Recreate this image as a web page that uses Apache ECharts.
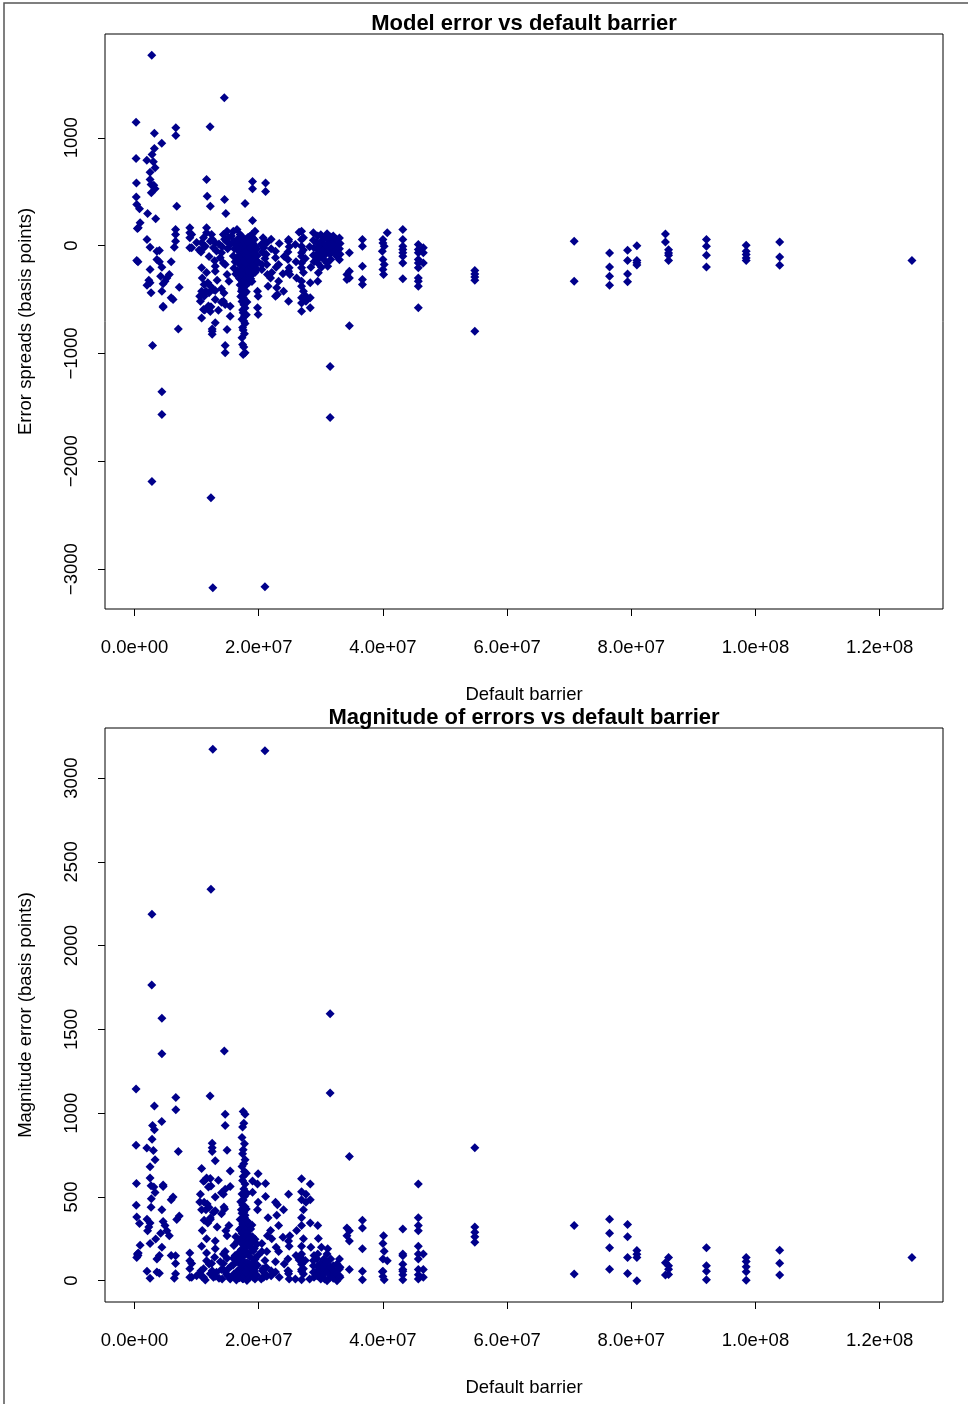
<!DOCTYPE html>
<html><head><meta charset="utf-8">
<script src="https://cdn.jsdelivr.net/npm/echarts@6/dist/echarts.min.js"></script>
<style>html,body{margin:0;padding:0;background:#fff}#c{width:968px;height:1404px}</style>
</head><body><div id="c"></div><script>
// x values are default barriers in millions; y values are error spreads in basis points
const xTicks = [0, 20, 40, 60, 80, 100, 120];
const topYTicks = [-3000, -2000, -1000, 0, 1000];
const botYTicks = [0, 500, 1000, 1500, 2000, 2500, 3000];

const obsNearZero = [
[0.24,1145],[0.24,808],[0.3,580],[0.27,451],[0.35,381],[0.8,341],[0.9,212],[0.45,159],[0.6,165],[0.35,-138],[0.55,-150],
[1.97,792],[2.0,57],[2.1,298],[2.0,-367],[2.3,-320],[2.5,-15],[2.5,-222],[2.5,-345],[2.5,681],[2.5,613],[2.66,567],[2.66,-438],
[2.77,1765],[2.8,-2188],[2.82,845],[2.9,-927],[3.03,777],[3.19,1043],[3.19,901],[3.1,560],[3.3,527],[2.7,490],[3.3,722],[3.4,249],
[3.6,-52],[4.0,-45],[3.6,-129],[4.0,-150],[4.2,-284],[4.38,950],[4.4,-200],[4.4,-423],[4.4,-1354],[4.4,-1567],[4.6,-354],[4.6,-562],
[4.6,-572],[4.9,-330],[5.2,-299],[5.6,-268],[5.9,-150],[5.9,-484],[6.2,-500],[6.64,1093],[6.64,1021],[6.8,365],[6.6,149],[6.6,103],
[6.6,41],[6.4,-15],[7.05,-772],[7.2,-386],[8.9,165],[8.9,119],[8.9,72],[8.9,-20]
];
const obsLow = [
[9.2,103],[9.2,-20],[10.0,30],[10.4,-40],[10.5,-470],[10.6,-516],[10.7,-60],[10.8,26],[10.8,-206],[10.8,-423],[10.8,-670],[10.9,-300],
[11.1,72],[11.1,-20],[11.1,-593],[11.2,-361],[11.2,-469],[11.3,-598],[11.4,-5],[11.5,-423],[11.6,613],[11.6,165],[11.6,119],[11.6,-250],
[11.7,458],[11.8,-345],[11.9,-560],[12.0,-100],[12.0,-437],[12.16,1102],[12.2,365],[12.2,41],[12.2,-374],[12.2,-610],[12.3,-2337],
[12.3,-566],[12.4,103],[12.5,60],[12.5,-772],[12.5,-794],[12.5,-821],[12.6,-3172],[12.7,-20],[12.7,-407],[12.9,-140],[13.0,26],
[13.0,-191],[13.0,-237],[13.0,-417],[13.0,-500],[13.0,-716],[13.2,-50],[13.3,-320],[13.5,-600],[13.6,15],[13.8,-113],[14.0,-67],
[14.0,-400],[14.0,-525],[14.1,-10],[14.3,103],[14.3,-160],[14.3,-516],[14.4,-440],[14.46,1371],[14.5,428],[14.5,60],[14.6,-175],
[14.6,-546],[14.6,-927],[14.6,-994],[14.7,298],[14.8,40],[14.9,134],[14.9,-268],[14.9,-778],[15.0,-30],[15.1,72],[15.2,-330],
[15.4,10],[15.4,-562],[15.4,-655],[15.6,90]
];
const obsCore = [
[15.9,134],[16.0,40],[16.1,-30],[15.9,-95],[16.2,-150],[16.0,-210],[16.3,-262],
[16.5,149],[16.6,60],[16.4,5],[16.7,-48],[16.5,-112],[16.8,-168],[16.6,-236],[16.9,-305],
[17.0,103],[17.1,22],[16.9,-18],[17.1,-72],[17.0,-128],[17.2,-186],[17.0,-246],[17.1,-312],[17.0,-365],[17.2,-423],[17.1,-472],
[17.3,82],[17.4,12],[17.3,-42],[17.4,-98],[17.3,-158],[17.4,-218],[17.3,-282],[17.4,-338],[17.3,-402],[17.4,-452],[17.3,-518],
[17.4,-598],[17.3,-682],[17.4,-758],[17.3,-855],[17.4,-917],[17.5,-1010],
[17.6,48],[17.5,-12],[17.6,-62],[17.5,-118],[17.6,-182],[17.5,-232],[17.6,-288],[17.5,-352],[17.6,-408],[17.5,-482],[17.6,-548],
[17.5,-622],[17.6,-698],[17.5,-782],[17.6,-940],
[17.8,391],[17.8,30],[17.7,-28],[17.8,-88],[17.7,-152],[17.8,-198],[17.7,-262],[17.8,-322],[17.7,-378],[17.8,-442],[17.7,-502],
[17.8,-578],[17.7,-652],[17.8,-722],[17.7,-818],[17.8,-994],
[18.0,62],[18.1,2],[18.0,-52],[18.1,-108],[18.0,-172],[18.1,-238],[18.0,-302],[18.1,-358],[18.0,-428],[18.1,-522],[18.0,-642],
[18.3,78],[18.4,18],[18.3,-38],[18.4,-102],[18.3,-162],[18.4,-222],[18.3,-278],[18.4,-342],
[18.6,88],[18.7,28],[18.6,-22],[18.7,-82],[18.6,-142],[18.7,-198],[18.6,-252],[18.7,-308],
[19.0,595],[19.0,528],[19.0,233],[18.9,103],[19.0,72],[19.1,20],[18.9,-42],[19.0,-100],[19.1,-178],[19.0,-262],[18.9,-332],
[19.4,134],[19.3,57],[19.4,-10],[19.3,-72],[19.4,-128],[19.3,-192],[19.4,-248],
[19.8,-423],[19.9,-469],[19.8,-577],[19.9,-639],[19.7,-32],[19.8,-92],[19.9,-152],[19.7,-218]
];
const obsMid = [
[20.5,-175],[20.5,-222],[20.4,10],[20.6,-60],[20.7,72],[20.8,-20],[21.0,-3163],[21.0,41],[21.1,580],[21.1,503],[21.0,-120],
[21.3,26],[21.3,-175],[21.4,-268],[21.5,-376],[21.2,-80],[22.0,-30],[22.1,-250],[21.9,-300],[22.0,60],[22.7,-52],[22.7,-113],
[22.7,-469],[22.8,-200],[23.2,-175],[22.9,-391],[23.0,-454],[23.3,20],[23.2,-330],[24.0,-423],[24.1,-100],[23.9,-260],[24.8,41],
[24.8,57],[24.7,-129],[24.9,-206],[24.8,-237],[25.0,-268],[24.8,-516],[24.9,-10],[24.7,-60],[26.0,-150],[26.1,-300],[25.9,10],
[26.5,124],[26.9,134],[26.9,57],[26.9,-6],[26.9,-67],[26.9,-98],[26.9,-160],[26.9,-206],[26.9,-330],[26.9,-376],[26.9,-484],
[26.9,-531],[26.9,-608],[27.2,72],[27.2,-40],[27.2,-250],[27.2,-423],[27.6,-469],[27.6,-516],[27.5,-120],
[28.3,-345],[28.3,-484],[28.3,-577],[28.2,-10],[28.4,-200],[28.8,120],[28.8,50],[28.9,-20],[28.8,-90],[28.9,-150],[29.5,90],
[29.4,30],[29.5,-36],[29.6,-67],[29.4,-129],[29.5,-160],[29.6,-252],[29.5,-330],[30.0,100],[30.1,40],[30.0,-10],[30.1,-60],
[30.0,-100],[30.1,-200],[30.5,70],[30.6,10],[30.5,-40],[30.6,-90],[30.5,-130],[31.0,110],[31.1,60],[31.0,0],[31.1,-50],
[31.0,-160],[31.1,-191],[31.5,-1121],[31.5,-1594],[31.6,80],[31.5,20],[31.6,-30],[31.5,-80],[31.6,-129],[32.0,90],[32.1,40],
[32.0,-15],[32.1,-60],[32.5,60],[32.6,0],[32.5,-40],[32.6,-100],[33.0,70],[33.1,20],[33.0,-30],[33.1,-80],[33.0,-130]
];
const obsFar = [
[34.2,-268],[34.2,-314],[34.6,-67],[34.6,-237],[34.6,-299],[34.6,-742],
[36.7,57],[36.7,-6],[36.7,-191],[36.7,-314],[36.7,-361],
[40.7,119],[40.0,57],[40.0,25],[40.2,-6],[39.9,-53],[40.0,-129],[40.2,-176],[40.0,-222],[40.1,-268],
[43.2,149],[43.2,57],[43.2,-6],[43.2,-36],[43.2,-67],[43.2,-98],[43.2,-160],[43.2,-308],
[45.7,10],[45.7,-36],[45.7,-67],[45.7,-129],[45.7,-160],[45.7,-206],[45.7,-299],[45.7,-330],[45.7,-376],[45.7,-577],
[46.5,-20],[46.5,-67],[46.5,-160],
[54.8,-230],[54.8,-262],[54.8,-290],[54.8,-320],[54.8,-794],
[70.8,40],[70.8,-330],
[76.5,-68],[76.5,-197],[76.5,-284],[76.5,-367],
[79.4,-43],[79.4,-139],[79.4,-262],[79.4,-336],
[80.9,0],[80.9,-139],[80.9,-158],[80.9,-180],
[85.5,108],[85.5,34],[86.0,-37],[86.0,-68],[86.0,-90],[86.0,-139],
[92.1,56],[92.1,-6],[92.1,-90],[92.1,-197],
[98.5,3],[98.5,-53],[98.5,-83],[98.5,-114],[98.5,-139],
[103.9,34],[103.9,-105],[103.9,-182],
[125.2,-139]
];

const allObs = [].concat(obsNearZero, obsLow, obsCore, obsMid, obsFar);
const magnitudeObs = allObs.map(p => [p[0], Math.abs(p[1])]);

const FONT = '"Liberation Sans", Arial, Helvetica, sans-serif';
const INK = '#000';
const DOT = '#00008B';

function sci(v) {
  if (v === 0) return '0.0e+00';
  const n = v * 1e6;
  const e = Math.floor(Math.log10(n) + 1e-9);
  const m = n / Math.pow(10, e);
  return m.toFixed(1) + 'e+' + String(e).padStart(2, '0');
}
function signed(v) { return v < 0 ? '\u2212' + Math.abs(v) : String(v); }

function makeX(gi) {
  return {
    type: 'value', gridIndex: gi, min: -4.76, max: 130.2,
    name: 'Default barrier', nameLocation: 'middle', nameGap: 76,
    nameTextStyle: { fontFamily: FONT, fontSize: 18.5, color: INK },
    axisLine: { show: false, onZero: false },
    splitLine: { show: false },
    axisTick: { show: true, inside: false, length: 7, customValues: xTicks, lineStyle: { color: INK, width: 1 } },
    axisLabel: { show: true, margin: 29, customValues: xTicks, formatter: sci, fontFamily: FONT, fontSize: 18.5, color: INK }
  };
}
function makeY(gi, mn, mx, ticks, name) {
  return {
    type: 'value', gridIndex: gi, min: mn, max: mx,
    name: name, nameLocation: 'middle', nameGap: 70, nameRotate: 90,
    nameTextStyle: { fontFamily: FONT, fontSize: 18.5, color: INK },
    axisLine: { show: false, onZero: false },
    splitLine: { show: false },
    axisTick: { show: true, inside: false, length: 7, customValues: ticks, lineStyle: { color: INK, width: 1 } },
    axisLabel: { show: true, margin: 24, rotate: 90, customValues: ticks, formatter: signed, fontFamily: FONT, fontSize: 18.5, color: INK }
  };
}

const chart = echarts.init(document.getElementById('c'), null, { renderer: 'canvas' });
chart.setOption({
  animation: false,
  backgroundColor: '#fff',
  grid: [
    { left: 105, top: 34, width: 838, height: 575, show: true, borderColor: INK, borderWidth: 1, backgroundColor: 'transparent' },
    { left: 105, top: 728, width: 838, height: 574, show: true, borderColor: INK, borderWidth: 1, backgroundColor: 'transparent' }
  ],
  xAxis: [makeX(0), makeX(1)],
  yAxis: [
    makeY(0, -3369.5, 1962.5, topYTicks, 'Error spreads (basis points)'),
    makeY(1, -127, 3299, botYTicks, 'Magnitude error (basis points)')
  ],
  graphic: [
    { type: 'rect', silent: true, shape: { x: 4, y: 3, width: 980, height: 1420 }, style: { fill: 'none', stroke: '#555', lineWidth: 1.5 } },
    { type: 'text', silent: true, style: { x: 524, y: 24, text: 'Model error vs default barrier', textAlign: 'center', textVerticalAlign: 'middle', font: 'bold 22px ' + FONT, fill: INK } },
    { type: 'text', silent: true, style: { x: 524, y: 718, text: 'Magnitude of errors vs default barrier', textAlign: 'center', textVerticalAlign: 'middle', font: 'bold 22px ' + FONT, fill: INK } }
  ],
  series: [
    { type: 'scatter', xAxisIndex: 0, yAxisIndex: 0, data: allObs, symbol: 'diamond', symbolSize: 9, itemStyle: { color: DOT, opacity: 1 }, clip: false },
    { type: 'scatter', xAxisIndex: 1, yAxisIndex: 1, data: magnitudeObs, symbol: 'diamond', symbolSize: 9, itemStyle: { color: DOT, opacity: 1 }, clip: false }
  ]
});
</script></body></html>
